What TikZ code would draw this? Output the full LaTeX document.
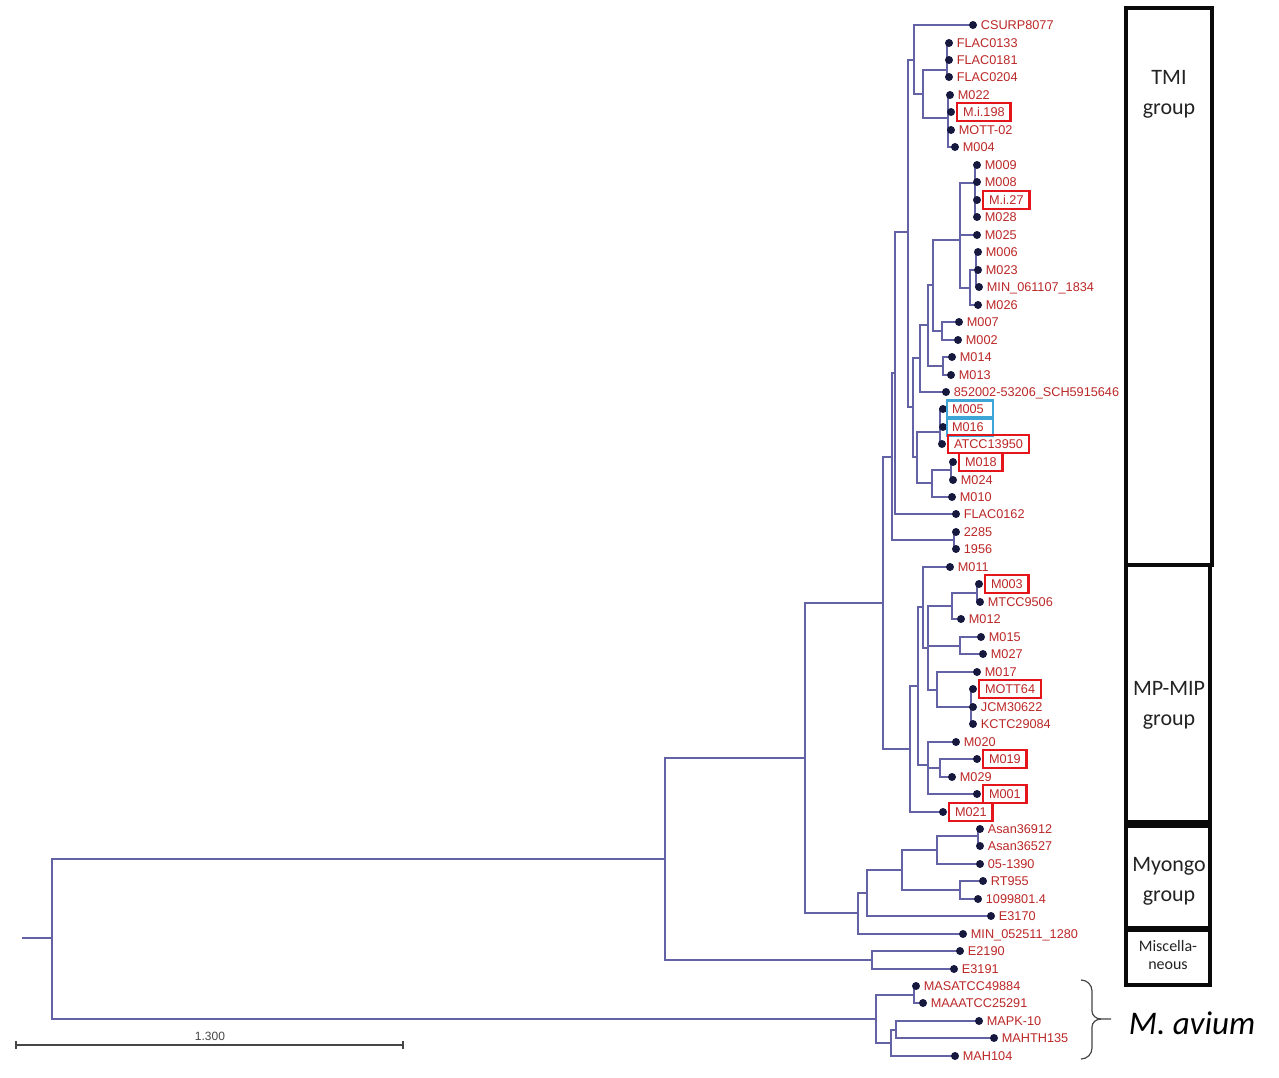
\documentclass[tikz,border=0pt]{standalone}
\usepackage{fontspec}
\setmainfont{Liberation Sans}
\newfontfamily\calfont{Carlito}
\usetikzlibrary{backgrounds}
\definecolor{brc}{RGB}{98,98,165}
\definecolor{dotc}{RGB}{22,24,62}
\definecolor{labc}{RGB}{188,40,40}
\definecolor{hlred}{RGB}{228,22,28}
\definecolor{hlblue}{RGB}{62,165,215}
\definecolor{grpc}{RGB}{10,10,10}
\definecolor{txtc}{RGB}{35,35,35}
\definecolor{sbc}{RGB}{70,70,70}
\tikzset{
 br/.style={draw=brc, line width=1.05pt},
 dot/.style={circle, fill=dotc, inner sep=0pt, minimum size=8pt},
 lab/.style={anchor=west, text=labc, inner sep=1pt, text height=9pt, text depth=0pt, font=\fontsize{12.7}{14}\selectfont},
 redhl/.style={draw=hlred, line width=2.6pt, inner xsep=6pt, inner ysep=4.5pt, xshift=-2pt},
 bluehl/.style={draw=hlblue, line width=2.6pt, inner xsep=5pt, inner ysep=4pt, text width=36pt, align=left, xshift=-4pt},
 grp/.style={draw=grpc, line width=4pt},
 grptxt/.style={align=center, text=txtc, font=\calfont\fontsize{22}{30}\selectfont},
 misctxt/.style={align=center, text=txtc, font=\calfont\fontsize{16}{18}\selectfont},
 sbar/.style={draw=sbc, line width=1.3pt},
}
\newcommand\tleaf[5][]{\coordinate (#2) at (#3,#4); \node[dot] (#2d) at (#2) {}; \node[lab,#1] (#2t) at ([xshift=2.5pt]#2d.east) {#5};}
\newcommand\tedge[2]{\draw[br] (#1) |- (#2);}
\begin{document}
\begin{tikzpicture}[x=1pt,y=-1pt]
\useasboundingbox (0,0) rectangle (1279,1078);
% leaves
\tleaf{L01}{973}{25}{CSURP8077}
\tleaf{L02}{949}{43}{FLAC0133}
\tleaf{L03}{949}{60}{FLAC0181}
\tleaf{L04}{949}{77}{FLAC0204}
\tleaf{L05}{950}{95}{M022}
\tleaf[redhl]{L06}{951}{112}{M.i.198}
\tleaf{L07}{951}{130}{MOTT-02}
\tleaf{L08}{955}{147}{M004}
\tleaf{L09}{977}{165}{M009}
\tleaf{L10}{977}{182}{M008}
\tleaf[redhl]{L11}{977}{200}{M.i.27}
\tleaf{L12}{977}{217}{M028}
\tleaf{L13}{977}{235}{M025}
\tleaf{L14}{978}{252}{M006}
\tleaf{L15}{978}{270}{M023}
\tleaf{L16}{979}{287}{MIN\_061107\_1834}
\tleaf{L17}{978}{305}{M026}
\tleaf{L18}{959}{322}{M007}
\tleaf{L19}{958}{340}{M002}
\tleaf{L20}{952}{357}{M014}
\tleaf{L21}{951}{375}{M013}
\tleaf{L22}{946}{392}{852002-53206\_SCH5915646}
\tleaf[bluehl]{L23}{943}{409}{M005}
\tleaf[bluehl]{L24}{943}{427}{M016}
\tleaf[redhl]{L25}{942}{444}{ATCC13950}
\tleaf[redhl]{L26}{953}{462}{M018}
\tleaf{L27}{953}{480}{M024}
\tleaf{L28}{952}{497}{M010}
\tleaf{L29}{956}{514}{FLAC0162}
\tleaf{L30}{956}{532}{2285}
\tleaf{L31}{956}{549}{1956}
\tleaf{L32}{950}{567}{M011}
\tleaf[redhl]{L33}{979}{584}{M003}
\tleaf{L34}{980}{602}{MTCC9506}
\tleaf{L35}{961}{619}{M012}
\tleaf{L36}{981}{637}{M015}
\tleaf{L37}{983}{654}{M027}
\tleaf{L38}{977}{672}{M017}
\tleaf[redhl]{L39}{973}{689}{MOTT64}
\tleaf{L40}{973}{707}{JCM30622}
\tleaf{L41}{973}{724}{KCTC29084}
\tleaf{L42}{956}{742}{M020}
\tleaf[redhl]{L43}{977}{759}{M019}
\tleaf{L44}{952}{777}{M029}
\tleaf[redhl]{L45}{977}{794}{M001}
\tleaf[redhl]{L46}{943}{812}{M021}
\tleaf{L47}{980}{829}{Asan36912}
\tleaf{L48}{980}{846}{Asan36527}
\tleaf{L49}{980}{864}{05-1390}
\tleaf{L50}{983}{881}{RT955}
\tleaf{L51}{978}{899}{1099801.4}
\tleaf{L52}{991}{916}{E3170}
\tleaf{L53}{963}{934}{MIN\_052511\_1280}
\tleaf{L54}{960}{951}{E2190}
\tleaf{L55}{954}{969}{E3191}
\tleaf{L56}{916}{986}{MASATCC49884}
\tleaf{L57}{923}{1003}{MAAATCC25291}
\tleaf{L58}{979}{1021}{MAPK-10}
\tleaf{L59}{994}{1038}{MAHTH135}
\tleaf{L60}{955}{1056}{MAH104}
% internal nodes
\coordinate (R0) at (22,938);
\coordinate (R) at (52,938);
\coordinate (U) at (665,859);
\coordinate (AV) at (876,1019);
\coordinate (P) at (805,758);
\coordinate (E) at (872,960);
\coordinate (Q) at (883,603);
\coordinate (Myo) at (858,913);
\coordinate (T1) at (892,457);
\coordinate (N910) at (910,749);
\coordinate (T2) at (895,373);
\coordinate (N956) at (954,540);
\coordinate (G908) at (908,232);
\coordinate (Top) at (914,60);
\coordinate (W) at (913,407);
\coordinate (FM) at (923,94);
\coordinate (FLn) at (947,70);
\coordinate (M22n) at (948,118);
\coordinate (C920) at (920,358);
\coordinate (X) at (917,457);
\coordinate (C928) at (928,325);
\coordinate (C933) at (933,285);
\coordinate (N943) at (943,366);
\coordinate (A) at (960,240);
\coordinate (N942) at (942,331);
\coordinate (Na1) at (975,183);
\coordinate (Na4) at (970,288);
\coordinate (Na3) at (976,270);
\coordinate (N943b) at (940,432);
\coordinate (N932) at (932,483);
\coordinate (N953) at (951,470);
\coordinate (N918) at (918,686);
\coordinate (N923) at (923,607);
\coordinate (N928) at (928,648);
\coordinate (N952) at (952,606);
\coordinate (N979) at (977,593);
\coordinate (N960) at (960,646);
\coordinate (N937) at (937,690);
\coordinate (N972) at (971,707);
\coordinate (N928b) at (928,765);
\coordinate (N940) at (940,768);
\coordinate (Myo2) at (867,893);
\coordinate (Myo3) at (902,870);
\coordinate (Myo4) at (937,850);
\coordinate (Asn) at (978,836);
\coordinate (RTn) at (960,890);
\coordinate (MS) at (914,995);
\coordinate (AV2) at (891,1043);
\coordinate (AV3) at (896,1030);
\begin{pgfonlayer}{background}
\fill[white] (0,0) rectangle (1279,1078);
\draw[br] (R0) -- (R);
\tedge{R}{U} \tedge{R}{AV}
\tedge{U}{P} \tedge{U}{E}
\tedge{P}{Q} \tedge{P}{Myo}
\tedge{E}{L54} \tedge{E}{L55}
\tedge{Q}{T1} \tedge{Q}{N910}
\tedge{T1}{T2} \tedge{T1}{N956}
\tedge{N956}{L30} \tedge{N956}{L31}
\tedge{T2}{G908} \tedge{T2}{L29}
\tedge{G908}{Top} \tedge{G908}{W}
\tedge{Top}{L01} \tedge{Top}{FM}
\tedge{FM}{FLn} \tedge{FM}{M22n}
\tedge{FLn}{L02} \tedge{FLn}{L03} \tedge{FLn}{L04}
\tedge{M22n}{L05} \tedge{M22n}{L06} \tedge{M22n}{L07} \tedge{M22n}{L08}
\tedge{W}{C920} \tedge{W}{X}
\tedge{C920}{C928} \tedge{C920}{L22}
\tedge{C928}{C933} \tedge{C928}{N943}
\tedge{N943}{L20} \tedge{N943}{L21}
\tedge{C933}{A} \tedge{C933}{N942}
\tedge{N942}{L18} \tedge{N942}{L19}
\tedge{A}{Na1} \tedge{A}{L13} \tedge{A}{Na4}
\tedge{Na1}{L09} \tedge{Na1}{L10} \tedge{Na1}{L11} \tedge{Na1}{L12}
\tedge{Na4}{Na3} \tedge{Na4}{L17}
\tedge{Na3}{L14} \tedge{Na3}{L15} \tedge{Na3}{L16}
\tedge{X}{N943b} \tedge{X}{N932}
\tedge{N943b}{L23} \tedge{N943b}{L24} \tedge{N943b}{L25}
\tedge{N932}{N953} \tedge{N932}{L28}
\tedge{N953}{L26} \tedge{N953}{L27}
\tedge{N910}{N918} \tedge{N910}{L46}
\tedge{N918}{N923} \tedge{N918}{N928b}
\tedge{N923}{L32} \tedge{N923}{N928}
\tedge{N928}{N952} \tedge{N928}{N960} \tedge{N928}{N937}
\tedge{N952}{N979} \tedge{N952}{L35}
\tedge{N979}{L33} \tedge{N979}{L34}
\tedge{N960}{L36} \tedge{N960}{L37}
\tedge{N937}{L38} \tedge{N937}{N972}
\tedge{N972}{L39} \tedge{N972}{L40} \tedge{N972}{L41}
\tedge{N928b}{L42} \tedge{N928b}{N940} \tedge{N928b}{L45}
\tedge{N940}{L43} \tedge{N940}{L44}
\tedge{Myo}{Myo2} \tedge{Myo}{L53}
\tedge{Myo2}{Myo3} \tedge{Myo2}{L52}
\tedge{Myo3}{Myo4} \tedge{Myo3}{RTn}
\tedge{Myo4}{Asn} \tedge{Myo4}{L49}
\tedge{Asn}{L47} \tedge{Asn}{L48}
\tedge{RTn}{L50} \tedge{RTn}{L51}
\tedge{AV}{MS} \tedge{AV}{AV2}
\tedge{MS}{L56} \tedge{MS}{L57}
\tedge{AV2}{AV3} \tedge{AV2}{L60}
\tedge{AV3}{L58} \tedge{AV3}{L59}
\end{pgfonlayer}
% group boxes
\draw[grp] (1126,8) rectangle (1212,565);
\draw[grp] (1126,565) rectangle (1210,822);
\draw[grp] (1126,826) rectangle (1210,928);
\draw[grp] (1126,930) rectangle (1210,985);
\node[grptxt] (gTMI) at (1169,94) {TMI\\group};
\node[grptxt] (gMP) at (1169,705) {MP-MIP\\group};
\node[grptxt] (gMY) at (1169,881) {Myongo\\group};
\node[misctxt] (gMS) at (1168,955) {Miscella-\\neous};
% M. avium brace
\draw[draw=sbc, line width=1.2pt] (1081,980) to[out=0,in=90] (1092,991) -- (1092,1011) to[out=-90,in=180] (1101,1019) -- (1111,1019);
\draw[draw=sbc, line width=1.2pt] (1101,1019) to[out=180,in=90] (1092,1027) -- (1092,1048) to[out=-90,in=0] (1081,1059);
\node[text=black, font=\calfont\itshape\fontsize{33}{36}\selectfont] (mav) at (1192,1023) {M. avium};
% scale bar
\coordinate (sb1) at (16,1045);
\coordinate (sb2) at (403,1045);
\draw[sbar] (sb1) -- (sb2);
\draw[sbar] ([yshift=-4pt]sb1) -- ([yshift=4pt]sb1);
\draw[sbar] ([yshift=-4pt]sb2) -- ([yshift=4pt]sb2);
\node[text=sbc, font=\fontsize{12}{14}\selectfont] (sbl) at (210,1036) {1.300};
\end{tikzpicture}
\end{document}
